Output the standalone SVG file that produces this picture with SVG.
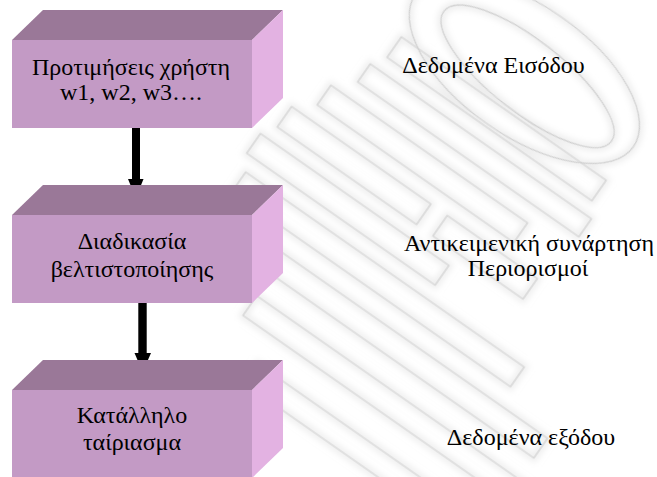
<svg xmlns="http://www.w3.org/2000/svg" width="657" height="477" viewBox="0 0 657 477">
  <defs>
    <filter id="haze" x="-20%" y="-20%" width="140%" height="140%">
      <feGaussianBlur stdDeviation="3"/>
    </filter>
    <filter id="soft" x="-10%" y="-10%" width="120%" height="120%">
      <feGaussianBlur stdDeviation="0.5"/>
    </filter>
    <!-- outline strokes of the background watermark, in a frame turned 35 degrees -->
    <g id="wm-shapes">
      <ellipse cx="476" cy="-240" rx="106" ry="36" transform="rotate(3 476 -240)"/>
      <ellipse cx="470" cy="-243" rx="133" ry="65"/>
      <rect x="350" y="-200" width="250" height="25"/>
      <rect x="340" y="-160" width="270" height="22"/>
      <rect x="320" y="-120" width="240" height="24"/>
      <rect x="300" y="-80" width="170" height="25"/>
      <rect x="490" y="-80" width="110" height="25"/>
      <rect x="290" y="-40" width="230" height="24"/>
      <rect x="300" y="0" width="340" height="24"/>
      <rect x="330" y="45" width="370" height="24"/>
      <rect x="380" y="95" width="380" height="24"/>
      <rect x="420" y="150" width="360" height="24"/>
    </g>
  </defs>
  <style>
    .front { fill: #C39AC5; }
    .top { fill: #9A7898; }
    .side { fill: #E3B2E2; }
    .lbl { font-family: "Liberation Serif", "Times New Roman", serif; font-size: 24px; fill: #000; text-anchor: middle; }
    .shaft { fill: #000; }
  </style>
  <rect width="657" height="477" fill="#fff"/>

  <!-- faint background watermark -->
  <g id="watermark" transform="rotate(35)">
    <use href="#wm-shapes" fill="none" stroke="#ededed" stroke-width="7" filter="url(#haze)"/>
    <use href="#wm-shapes" fill="none" stroke="#d0d0d0" stroke-width="1.2" filter="url(#soft)"/>
  </g>

  <!-- arrows -->
  <g id="connectors">
    <rect class="shaft" x="132" y="128" width="8" height="52"/>
    <polygon points="128,179 143.5,179 135.8,198" fill="#000"/>
    <rect class="shaft" x="138.3" y="303" width="8.4" height="51"/>
    <polygon points="134.5,353 151,353 142.7,372" fill="#000"/>
  </g>

  <g id="node-preferences">
    <polygon class="top" points="12,40 43,10 283,10 252,40"/>
    <polygon class="side" points="252,40 283,10 283,98 252,128"/>
    <rect class="front" x="12" y="40" width="240" height="88"/>
    <text class="lbl" x="131" y="75">Προτιμήσεις χρήστη</text>
    <text class="lbl" x="131" y="100">w1, w2, w3….</text>
  </g>

  <g id="node-optimization">
    <polygon class="top" points="12,215 43,185 283,185 252,215"/>
    <polygon class="side" points="252,215 283,185 283,273 252,303"/>
    <rect class="front" x="12" y="215" width="240" height="88"/>
    <text class="lbl" x="132" y="249">Διαδικασία</text>
    <text class="lbl" x="132" y="277">βελτιστοποίησης</text>
  </g>

  <g id="node-matching">
    <polygon class="top" points="12,390 43,360 283,360 252,390"/>
    <polygon class="side" points="252,390 283,360 283,448 252,478"/>
    <rect class="front" x="12" y="390" width="240" height="88"/>
    <text class="lbl" x="132" y="423">Κατάλληλο</text>
    <text class="lbl" x="132" y="450">ταίριασμα</text>
  </g>

  <g id="label-input">
    <text class="lbl" x="493.5" y="73">Δεδομένα Εισόδου</text>
  </g>
  <g id="label-objective">
    <text class="lbl" x="529" y="251">Αντικειμενική συνάρτηση</text>
    <text class="lbl" x="528" y="276">Περιορισμοί</text>
  </g>
  <g id="label-output">
    <text class="lbl" x="531" y="445">Δεδομένα εξόδου</text>
  </g>
</svg>
